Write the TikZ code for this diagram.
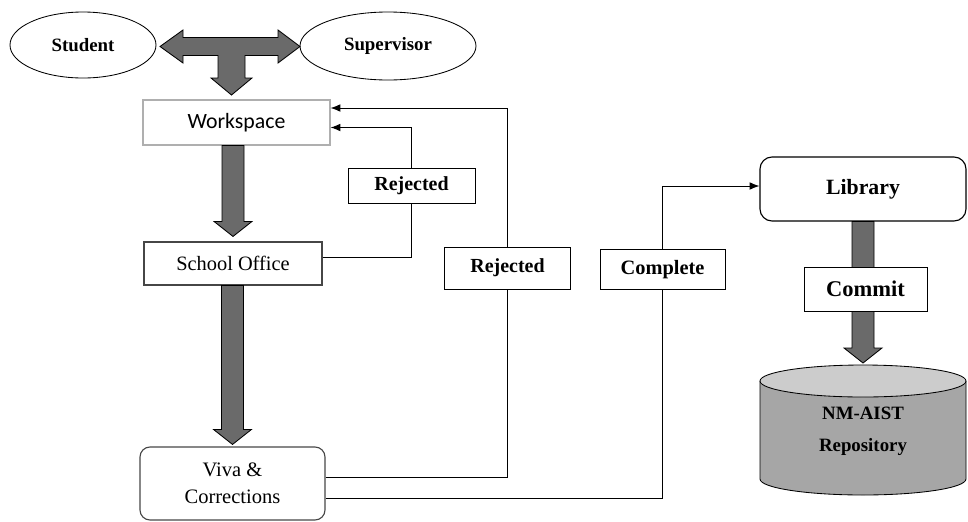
\documentclass[tikz,border=0pt]{standalone}
\usepackage{fontspec}
\setmainfont{Liberation Serif}
\newfontfamily\wsfont{Carlito}
\usetikzlibrary{arrows.meta,shapes,positioning,calc}

\newlength{\pu}\setlength{\pu}{0.025cm}
\definecolor{fatgray}{RGB}{106,106,106}
\definecolor{lightedge}{RGB}{175,175,175}
\definecolor{darkedge}{RGB}{70,70,70}
\definecolor{repobody}{RGB}{166,166,166}
\definecolor{repolid}{RGB}{204,204,204}

\tikzset{
  actor/.style={ellipse, draw=black, line width=0.6pt, inner sep=0pt, font=\fontsize{13.4}{16}\selectfont\bfseries},
  labelbox/.style={rectangle, draw=black, fill=white, line width=0.6pt, inner sep=0pt, font=\fontsize{14.2}{17}\selectfont\bfseries},
  fat/.style={fill=fatgray, draw=black, line width=0.6pt},
}

\newcommand{\fatarrow}[2]{%
  \filldraw[fat] ($(#1)+(-11,0)$) -- ($(#2)+(-11,-15)$) -- ($(#2)+(-19,-15)$) -- (#2)
    -- ($(#2)+(19,-15)$) -- ($(#2)+(11,-15)$) -- ($(#1)+(11,0)$) -- cycle;}

\begin{document}
\begin{tikzpicture}[x=0.025cm, y=-0.025cm, >={Latex[length=7pt,width=5.5pt]}]
    \useasboundingbox (0,0) rectangle (968,521);

    % people
    \node(student) at (83,45) [actor, minimum width=146*\pu, minimum height=66*\pu] {Student};
    \node(supervisor) at (388,46) [actor, minimum width=176*\pu, minimum height=68*\pu] {Supervisor};

    % boxes
    \node(workspace) at (236.5,122.5) [rectangle, draw=lightedge, line width=0.8pt, minimum width=187*\pu, minimum height=45*\pu, font=\wsfont\fontsize{15.5}{18}\selectfont] {Workspace};
    \node(office) at (233,263.5) [rectangle, draw=darkedge, line width=0.8pt, minimum width=178*\pu, minimum height=43*\pu, font=\fontsize{14.5}{17}\selectfont] {School Office};
    \node(viva) at (232.5,483.5) [rectangle, draw=darkedge, line width=0.8pt, rounded corners=0.25cm, minimum width=185*\pu, minimum height=73*\pu, align=center, font=\fontsize{14.6}{19}\selectfont] {Viva \&\\Corrections};
    \node(library) at (863,189) [rectangle, draw=black, line width=0.8pt, rounded corners=0.3cm, minimum width=206*\pu, minimum height=64*\pu, font=\fontsize{15.5}{18}\selectfont\bfseries] {Library};

    % repository
    \fill[repobody] (760,381) -- (760,479) arc[start angle=180, end angle=0, x radius=103, y radius=16] -- (966,381) -- cycle;
    \draw[line width=0.6pt] (760,381) -- (760,479) arc[start angle=180, end angle=0, x radius=103, y radius=16] -- (966,381);
    \filldraw[fill=repolid, line width=0.6pt] (863,381) ellipse [x radius=103, y radius=16];
    \node(repo) at (863,431) [align=center, font=\fontsize{13.4}{22.8}\selectfont\bfseries] {NM-AIST\\Repository};

    % thick arrows
    \filldraw[fat] (160,46.5) -- (183,30) -- (183,37.5) -- (278,37.5) -- (278,30) -- (300,46.5)
      -- (278,63) -- (278,55.5) -- (245,55.5) -- (245,78) -- (252,78) -- (231.5,95)
      -- (211,78) -- (218,78) -- (218,55.5) -- (183,55.5) -- (183,63) -- cycle;

    \coordinate(wsdown) at (office.north |- workspace.south);
    \coordinate(offtop) at ($(office.north)+(0,-5)$);
    \fatarrow{wsdown}{offtop}

    \coordinate(offdown) at (viva.north |- office.south);
    \coordinate(vivatop) at ($(viva.north)+(0,-2)$);
    \fatarrow{offdown}{vivatop}

    \coordinate(libdown) at (library.south);
    \coordinate(cyltop) at (863,363);
    \fatarrow{libdown}{cyltop}
    \node(commit) at (865.5,289) [labelbox, minimum width=123*\pu, minimum height=44*\pu, font=\fontsize{16}{19}\selectfont\bfseries] {Commit};

    % thin lines
    \draw [->][draw=black, line width=0.7pt] ($(office.east)+(0,-6)$) -- ++(89,0) |- node[labelbox, pos=0.277, minimum width=127*\pu, minimum height=35*\pu] {Rejected} ($(workspace.east)+(0,5)$);
    \draw [->][draw=black, line width=0.7pt] ($(viva.east)+(0,-6.5)$) -- ++(182,0) |- node[labelbox, pos=0.283, minimum width=126*\pu, minimum height=42*\pu] {Rejected} ($(workspace.east)+(0,-14.5)$);
    \draw [->][draw=black, line width=0.7pt] ($(viva.east)+(0,14.5)$) -- ++(337,0) |- node[labelbox, pos=0.366, minimum width=125*\pu, minimum height=40*\pu, font=\fontsize{14.5}{17}\selectfont\bfseries] {Complete} ($(library.west)+(0,-3)$);

\end{tikzpicture}
\end{document}
